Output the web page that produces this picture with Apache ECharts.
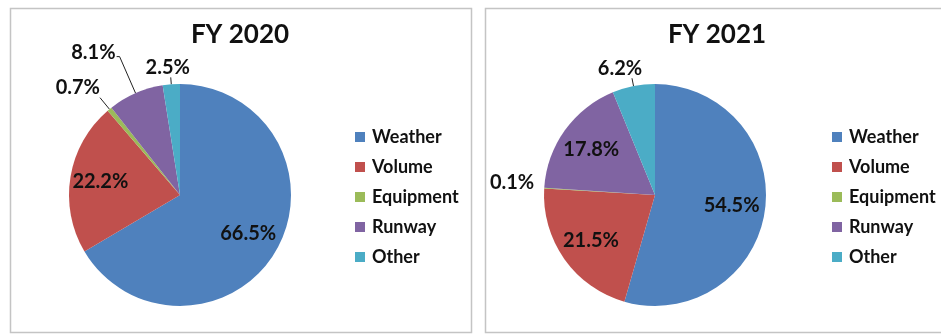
<!DOCTYPE html>
<html><head><meta charset="utf-8">
<script src="https://cdn.jsdelivr.net/npm/echarts@6/dist/echarts.min.js"></script>
<style>html,body{margin:0;padding:0;background:#fff}#c{width:941px;height:334px}</style>
</head><body><div id="c"></div>
<script>
// ---- data ----
const categories = ['Weather', 'Volume', 'Equipment', 'Runway', 'Other'];
const fy2020 = [66.5, 22.2, 0.7, 8.1, 2.5];
const fy2021 = [54.5, 21.5, 0.1, 17.8, 6.2];
const titles = ['FY 2020', 'FY 2021'];

// ---- style ----
const colors = ['#4F81BD', '#C0504D', '#9BBB59', '#8064A2', '#4BACC6'];
const FONT = 'Lato';
const R = 111;
const centers = [[180, 195], [655, 195]];
const titleX = [240, 717];
const legendX = [355, 832];
// label placement styles per chart / category
const labelCfg = [
  [
    {mode: 'in', f: 0.68},
    {mode: 'in', f: 0.70},
    {mode: 'out', len: 15, len2: 0, line: true, align: 'right', va: 'bottom', ox: 0, oy: 0},
    {mode: 'out', len: 40, len2: 3, line: true, align: 'right', va: 'middle', ox: -1, oy: -4},
    {mode: 'out', len: 7, len2: 0, line: true, align: 'center', va: 'bottom', ox: -3, oy: 0}
  ],
  [
    {mode: 'in', f: 0.67},
    {mode: 'in', f: 0.68},
    {mode: 'out', len: 10, len2: 0, line: false, align: 'right', va: 'middle', ox: 0, oy: -5},
    {mode: 'in', f: 0.68},
    {mode: 'out', len: 8, len2: 0, line: true, align: 'center', va: 'bottom', ox: -12, oy: 0}
  ]
];

function midAngles(vals) {
  const sum = vals.reduce((a, b) => a + b, 0);
  let acc = 0;
  return vals.map(v => { const m = (acc + v / 2) / sum * 2 * Math.PI; acc += v; return m; });
}

const seriesVals = [fy2020, fy2021];
const mids = seriesVals.map(midAngles);

function buildData(vals, k) {
  return vals.map((v, i) => {
    const c = labelCfg[k][i];
    const item = {value: v, name: categories[i]};
    if (c.mode === 'in') {
      item.label = {position: 'inside'};
    } else {
      item.label = {position: 'outside'};
      item.labelLine = {show: true, length: c.len, length2: c.len2,
        lineStyle: {color: c.line ? '#222' : 'rgba(0,0,0,0)', width: 1}};
    }
    return item;
  });
}

function layoutFn(params) {
  const k = params.seriesIndex, i = params.dataIndex;
  const c = labelCfg[k][i];
  const a = mids[k][i];
  if (c.mode === 'in') {
    const extra = (c.f - 0.5) * R;
    return {dx: extra * Math.sin(a), dy: -extra * Math.cos(a)};
  }
  const pts = params.labelLinePoints;
  if (!pts) return {};
  const end = pts[pts.length - 1];
  return {
    x: end[0] + c.ox, y: end[1] + c.oy,
    align: c.align, verticalAlign: c.va,
    labelLinePoints: pts
  };
}

const chart = echarts.init(document.getElementById('c'), null, {renderer: 'canvas'});
chart.setOption({
  animation: false,
  backgroundColor: '#fff',
  color: colors,
  graphic: [
    {type: 'rect', z: -10, shape: {x: 10.5, y: 8.5, width: 461, height: 324},
      style: {fill: 'none', stroke: '#c4c4c4', lineWidth: 1.5}},
    {type: 'rect', z: -10, shape: {x: 485.5, y: 8.5, width: 470, height: 324},
      style: {fill: 'none', stroke: '#c4c4c4', lineWidth: 1.5}}
  ],
  title: titles.map((t, k) => ({
    text: t, left: titleX[k], top: 22, textAlign: 'center', padding: 0,
    textStyle: {fontFamily: FONT, fontWeight: 'bold', fontSize: 26, color: '#111'}
  })),
  legend: legendX.map(x => ({
    orient: 'vertical', left: x, top: 127, icon: 'rect',
    itemWidth: 10, itemHeight: 10, itemGap: 10, padding: 0,
    data: categories,
    selectedMode: false,
    textStyle: {fontFamily: FONT, fontWeight: 'bold', fontSize: 18, color: '#111', lineHeight: 20, padding: [0, 0, 0, 2]}
  })),
  series: seriesVals.map((vals, k) => ({
    type: 'pie',
    center: centers[k], radius: R,
    startAngle: 90, clockwise: true,
    avoidLabelOverlap: false,
    emphasis: {disabled: true},
    itemStyle: {borderWidth: 0},
    label: {
      show: true, fontFamily: FONT, fontWeight: 'bold', fontSize: 20, color: '#111',
      formatter: p => p.value.toFixed(1) + '%'
    },
    labelLayout: layoutFn,
    data: buildData(vals, k)
  }))
});
</script>
</body></html>
